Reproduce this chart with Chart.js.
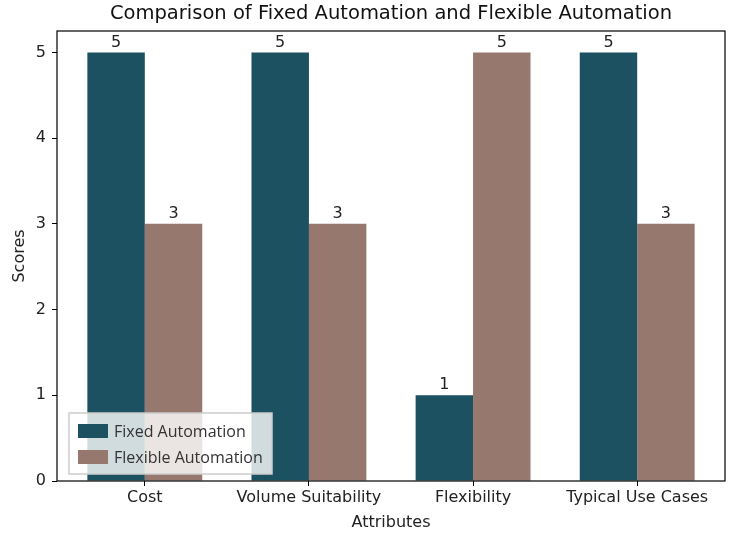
<!DOCTYPE html>
<html>
<head>
<meta charset="utf-8">
<script src="https://cdn.jsdelivr.net/npm/chart.js@4/dist/chart.umd.min.js"></script>
<style>
  html, body { margin: 0; padding: 0; background: #fff; }
  #wrap { width: 753px; height: 539px; position: relative; }
</style>
</head>
<body>
<div id="wrap"><canvas id="myChart" width="753" height="539"></canvas></div>
<script>
// data
const categories = ['Cost', 'Volume Suitability', 'Flexibility', 'Typical Use Cases'];
const fixedScores = [5, 5, 1, 5];
const flexibleScores = [3, 3, 5, 3];
const yTicks = [0, 1, 2, 3, 4, 5];

const TITLE = 'Comparison of Fixed Automation and Flexible Automation';
const FIXED_COLOR = '#1c5161';
const FLEX_COLOR = '#96786e';
const FONT = 'DejaVu Sans';

// frame around the plot area + title centred over the axes (like matplotlib)
const framePlugin = {
  id: 'frame',
  afterDatasetsDraw(chart) {
    const { ctx, chartArea: a } = chart;
    ctx.save();
    ctx.strokeStyle = '#000';
    ctx.lineWidth = 1.2;
    ctx.strokeRect(a.left, a.top, a.right - a.left, a.bottom - a.top);
    ctx.font = '19.5px ' + FONT;
    ctx.fillStyle = '#111';
    ctx.textAlign = 'center';
    ctx.textBaseline = 'middle';
    ctx.fillText(TITLE, (a.left + a.right) / 2, 14);
    ctx.restore();
  }
};

// value labels above each bar
const barLabels = {
  id: 'barLabels',
  afterDatasetsDraw(chart) {
    const { ctx } = chart;
    ctx.save();
    ctx.font = '16px ' + FONT;
    ctx.fillStyle = '#222';
    ctx.textAlign = 'center';
    ctx.textBaseline = 'bottom';
    chart.data.datasets.forEach((ds, i) => {
      chart.getDatasetMeta(i).data.forEach((bar, j) => {
        ctx.fillText(String(ds.data[j].y), bar.x, bar.y - 2);
      });
    });
    ctx.restore();
  }
};

// legend box in the lower left of the plot
const insideLegend = {
  id: 'insideLegend',
  afterDraw(chart) {
    const { ctx, chartArea: a } = chart;
    const x = a.left + 12, y = a.bottom - 68, w = 203, h = 61;
    ctx.save();
    ctx.fillStyle = 'rgba(255,255,255,0.8)';
    ctx.fillRect(x, y, w, h);
    ctx.strokeStyle = '#cccccc';
    ctx.lineWidth = 1.5;
    ctx.strokeRect(x, y, w, h);
    ctx.font = '16px "Open Sans"';
    ctx.textBaseline = 'middle';
    chart.data.datasets.forEach((ds, i) => {
      const cy = y + 18 + i * 26;
      ctx.fillStyle = ds.backgroundColor;
      ctx.fillRect(x + 9, cy - 7, 30, 14);
      ctx.fillStyle = '#333';
      ctx.fillText(ds.label, x + 45, cy + 1);
    });
    ctx.restore();
  }
};

const toPoints = arr => arr.map((v, i) => ({ x: i, y: v }));

const ctx = document.getElementById('myChart').getContext('2d');
const myChart = new Chart(ctx, {
  type: 'bar',
  data: {
    datasets: [{
      label: 'Fixed Automation',
      data: toPoints(fixedScores),
      backgroundColor: FIXED_COLOR,
      categoryPercentage: 0.7,
      barPercentage: 1.0
    }, {
      label: 'Flexible Automation',
      data: toPoints(flexibleScores),
      backgroundColor: FLEX_COLOR,
      categoryPercentage: 0.7,
      barPercentage: 1.0
    }]
  },
  options: {
    responsive: false,
    animation: false,
    layout: { padding: { left: 0, right: 28, top: 31, bottom: 0 } },
    plugins: {
      legend: { display: false },
      tooltip: { enabled: false },
      title: { display: false }
    },
    scales: {
      x: {
        type: 'linear',
        min: -0.535,
        max: 3.535,
        offset: false,
        afterBuildTicks: s => { s.ticks = categories.map((c, i) => ({ value: i })); },
        afterFit: s => { s.height = 58; },
        ticks: {
          color: '#222',
          font: { family: FONT, size: 16 },
          padding: 2,
          maxRotation: 0,
          autoSkip: false,
          callback: v => categories[v]
        },
        grid: { drawOnChartArea: false, offset: false, color: '#000', tickLength: 5 },
        border: { display: false },
        title: {
          display: true,
          text: 'Attributes',
          color: '#222',
          font: { family: FONT, size: 16 },
          padding: { top: 0, bottom: 7 }
        }
      },
      y: {
        min: 0,
        max: 5.25,
        afterBuildTicks: s => { s.ticks = yTicks.map(v => ({ value: v })); },
        afterFit: s => { s.width = 57; },
        ticks: {
          color: '#222',
          font: { family: FONT, size: 16 },
          padding: 6
        },
        grid: { drawOnChartArea: false, color: '#000', tickLength: 5 },
        border: { display: false },
        title: {
          display: true,
          text: 'Scores',
          color: '#222',
          font: { family: FONT, size: 16 },
          padding: { top: 10, bottom: 2 }
        }
      }
    }
  },
  plugins: [framePlugin, barLabels, insideLegend]
});
</script>
</body>
</html>
